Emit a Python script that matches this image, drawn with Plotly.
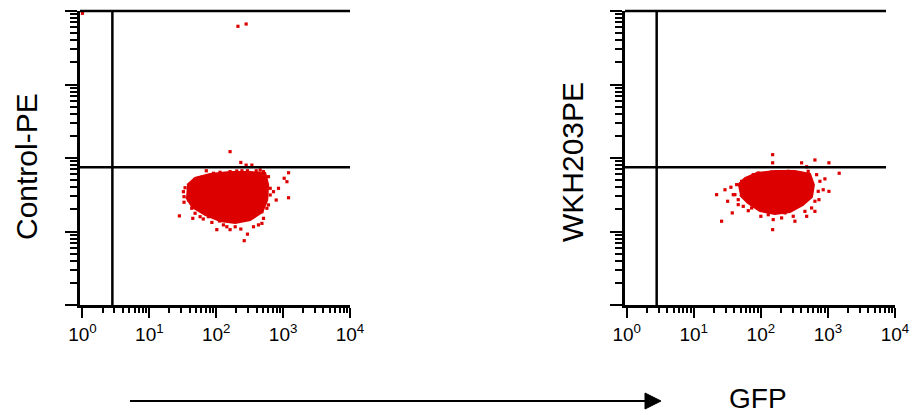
import plotly.graph_objects as go
from plotly.subplots import make_subplots

# ---------------- data ----------------
panel_titles = ["Control-PE", "WKH203PE"]
x_axis_title = "GFP"

decade_vals = [1, 10, 100, 1000, 10000]
decade_text = ["10<sup>0</sup>", "10<sup>1</sup>", "10<sup>2</sup>", "10<sup>3</sup>", "10<sup>4</sup>"]
minor_vals = [m * d for d in [1, 10, 100, 1000] for m in range(2, 10)]

# quadrant gates
gate_x = [2.8, 2.8]
gate_y = [75, 75]

# dense core of each population (outline of the solid area)
ctrl_core_x = [36.7, 48.3, 81, 161, 322, 540, 598, 578, 487, 322, 192, 114, 68, 43.6, 35.4]
ctrl_core_y = [43, 53.4, 60.6, 64.5, 64.5, 62.5, 43, 26.8, 18.4, 14.3, 13.1, 13.9, 16.8, 21.5, 29.5]

wkh_core_x = [45.6, 58, 87.5, 162, 322, 540, 618, 578, 424, 272, 162, 97, 64, 48.8]
wkh_core_y = [43, 53.4, 62.5, 66.5, 66.5, 60.6, 43, 29.5, 23, 18.4, 17.3, 19, 24.4, 31.4]

# scattered events around the cores
ctrl_pts_x = [161, 233, 280, 341, 71, 242, 293, 396, 1205, 1038, 1140, 54, 44.6, 34.2, 62,
              853, 718, 1205, 788, 33, 28.1, 43, 44.6, 64, 86, 112, 102, 161, 233, 293,
              262, 428, 482, 572, 128, 81, 54, 1.0, 211, 280,
              32.3, 33, 38.4, 48.3, 57.4, 76.4, 96, 144, 192, 361, 482, 509, 604, 641,
              641, 604, 509, 454, 203, 161, 114, 91, 76.4, 60.8, 48.3]
ctrl_pts_y = [122, 87, 80, 80, 67, 67, 67, 67, 63, 53, 47.6, 53, 47.6, 39.4, 42,
              38.7, 34.8, 28.8, 26.8, 25, 16.3, 20.7, 15.1, 14.8, 13.3, 13.9, 10.6, 10.6, 10.8, 9.2,
              7.5, 12.3, 18.6, 20.7, 12.3, 20.7, 31.4, 9300, 6190, 6650,
              34.8, 29.8, 26.8, 17.7, 15.9, 15.9, 15.9, 11.6, 11.6, 11.6, 12.9, 15.1, 23, 31.4,
              38.7, 55.7, 65.2, 68.7, 66.5, 65.2, 63.9, 62, 57.4, 54.6, 51.3]

wkh_pts_x = [150, 150, 405, 640, 1035, 482, 1473, 902, 1035, 851, 735, 640, 482, 21.9, 29.2,
             35.8, 32, 37.5, 26, 46, 65, 100, 153, 150, 322, 229, 82, 77, 229, 38.8,
             43.6, 41.1, 46, 54.7, 72.9, 129, 204, 304, 454, 571, 640, 717, 760, 679,
             508, 256, 145, 91.5, 65, 51.7]
wkh_pts_y = [111, 86, 86, 94, 86, 76, 62, 52, 35.2, 37, 27.1, 18.8, 16.1, 31.7, 37,
             40, 25.8, 17.9, 13.8, 23.2, 19.2, 16.1, 14.5, 10.6, 13.8, 17.9, 28.6, 59.3, 62.5, 31.7,
             43.4, 31.7, 27.1, 22, 20.9, 16.9, 15.3, 16.1, 18.8, 20.9, 25.8, 35.2, 48.2, 59.3,
             65.9, 65.9, 64.5, 62.5, 53.4, 48.2]

RED = "#dd0000"
FONT = "Arial, Liberation Sans, sans-serif"

fig = make_subplots(rows=1, cols=2)

panels = [
    (ctrl_core_x, ctrl_core_y, ctrl_pts_x, ctrl_pts_y),
    (wkh_core_x, wkh_core_y, wkh_pts_x, wkh_pts_y),
]
for i, (cx, cy, px, py) in enumerate(panels, start=1):
    fig.add_trace(go.Scatter(x=cx, y=cy, mode="lines", fill="toself", fillcolor=RED,
                             line=dict(color=RED, width=2), hoverinfo="skip",
                             showlegend=False), row=1, col=i)
    fig.add_trace(go.Scatter(x=px, y=py, mode="markers",
                             marker=dict(color=RED, size=3.2, symbol="square", line=dict(width=0)),
                             showlegend=False), row=1, col=i)

x_domains = [[80 / 913, 350 / 913], [625 / 913, 895 / 913]]
x_ranges = [[-0.037, 4.0], [-0.025, 4.0]]
y_domain = [110 / 415, 404 / 415]

for i in range(2):
    sfx = "" if i == 0 else "2"
    fig.update_layout(**{
        "xaxis" + sfx: dict(
            type="log", domain=x_domains[i], range=x_ranges[i], automargin=False,
            showline=True, linewidth=2.5, linecolor="black",
            showgrid=False, zeroline=False,
            tickmode="array", tickvals=decade_vals, ticktext=decade_text,
            ticks="outside", ticklen=10, tickwidth=2, tickcolor="black",
            tickfont=dict(family=FONT, size=19, color="black"),
            minor=dict(tickmode="array", tickvals=minor_vals, ticks="outside",
                       ticklen=5, tickwidth=1.5, tickcolor="black", showgrid=False),
        ),
        "yaxis" + sfx: dict(
            type="log", domain=y_domain, range=[0, 4], automargin=False,
            showline=True, linewidth=2.5, linecolor="black",
            showgrid=False, zeroline=False, showticklabels=False,
            tickmode="array", tickvals=decade_vals,
            ticks="outside", ticklen=12, tickwidth=2, tickcolor="black",
            minor=dict(tickmode="array", tickvals=minor_vals, ticks="outside",
                       ticklen=7, tickwidth=1.5, tickcolor="black", showgrid=False),
        ),
    })

shapes = []
top_ends = [1.0, (886 - 625) / (895 - 625)]
for i in range(2):
    xr = "x" if i == 0 else "x2"
    yr = "y" if i == 0 else "y2"
    # top border
    shapes.append(dict(type="line", xref=xr + " domain", yref=yr + " domain",
                       x0=0, x1=top_ends[i], y0=1, y1=1, line=dict(color="black", width=2.5)))
    # vertical gate
    shapes.append(dict(type="line", xref=xr, yref=yr + " domain",
                       x0=gate_x[i], x1=gate_x[i], y0=0, y1=1, line=dict(color="black", width=2.5)))
    # horizontal gate
    shapes.append(dict(type="line", xref=xr + " domain", yref=yr,
                       x0=0, x1=top_ends[i], y0=gate_y[i], y1=gate_y[i],
                       line=dict(color="black", width=2.5)))

# bottom arrow
shapes.append(dict(type="line", xref="paper", yref="paper",
                   x0=130 / 913, x1=648 / 913, y0=1 - 401 / 415, y1=1 - 401 / 415,
                   line=dict(color="black", width=2)))
shapes.append(dict(type="path", xref="paper", yref="paper",
                   path="M {a},{b} L {c},{d} L {a},{e} Z".format(
                       a=645 / 913, b=1 - 393 / 415, c=661 / 913, d=1 - 401 / 415, e=1 - 409 / 415),
                   fillcolor="black", line=dict(color="black", width=1)))

annotations = [
    dict(text=panel_titles[0], xref="paper", yref="paper", x=26 / 913, y=1 - 167 / 415,
         textangle=-90, showarrow=False, font=dict(family=FONT, size=30, color="black"),
         xanchor="center", yanchor="middle"),
    dict(text=panel_titles[1], xref="paper", yref="paper", x=572 / 913, y=1 - 162 / 415,
         textangle=-90, showarrow=False, font=dict(family=FONT, size=30, color="black"),
         xanchor="center", yanchor="middle"),
    dict(text=x_axis_title, xref="paper", yref="paper", x=758 / 913, y=1 - 398 / 415,
         showarrow=False, font=dict(family=FONT, size=28, color="black"),
         xanchor="center", yanchor="middle"),
]

fig.update_layout(width=913, height=415, margin=dict(l=0, r=0, t=0, b=0, autoexpand=False),
                  paper_bgcolor="white", plot_bgcolor="white",
                  shapes=shapes, annotations=annotations, showlegend=False)

# remove the browser's default 8px page margin so the figure fills the window
fig.write_html("out.html", config={"displayModeBar": False},
               post_script="document.body.style.margin='0';document.body.style.overflow='hidden';")
